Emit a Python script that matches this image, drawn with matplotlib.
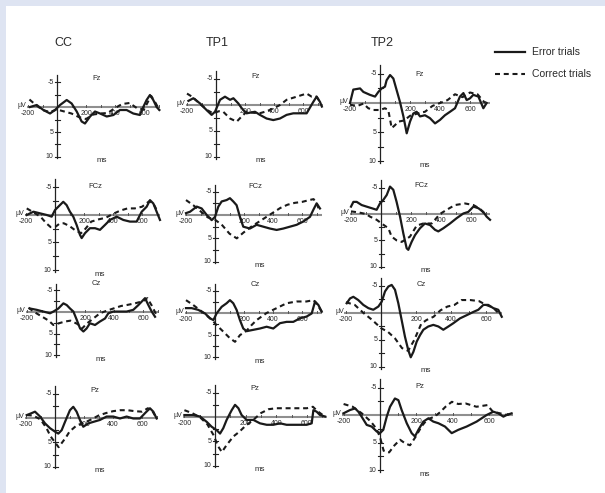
import matplotlib
matplotlib.use('Agg')
import matplotlib.pyplot as plt
from matplotlib.lines import Line2D

# ---------------- data (time ms, amplitude µV; negative plotted up) ----------------
columns = ["CC", "TP1", "TP2"]
electrodes = ["Fz", "FCz", "Cz", "Pz"]
series_labels = ["Error trials", "Correct trials"]
x_tick_labels = ["-200", "200", "400", "600"]
y_tick_labels = ["-5", "5", "10"]

cc_fz_error = [(-186,0.0),(-140,-0.4),(-94,0.6),(-48,1.3),(-14,0.6),(21,-0.4),(67,-1.4),(101,-0.7),(136,0.9),(170,2.9),(193,3.3),(228,1.9),(262,0.9),(297,1.3),(343,1.9),(389,1.6),(434,0.6),(480,0.6),(526,1.3),(572,1.6),(595,0.0),(618,-1.4),(641,-2.4),(664,-1.4),(687,0.0),(706,0.6)]
cc_fz_correct = [(-190,-1.5),(-150,-0.5),(-100,0.6),(-50,1.0),(0,0.5),(50,0.9),(100,1.3),(150,2.0),(200,2.4),(250,1.5),(300,1.3),(350,1.2),(400,0.2),(450,-0.6),(500,-0.8),(550,0.2),(600,0.5),(630,-1.2),(650,-2.2),(680,-0.8),(706,0.6)]
tp1_fz_error = [(-190,-0.8),(-156,-1.3),(-110,-0.3),(-64,1.0),(-30,1.9),(-7,1.3),(28,-1.0),(62,-1.6),(97,-1.0),(120,-1.3),(154,-0.3),(177,0.6),(211,1.6),(269,1.3),(303,1.9),(349,2.6),(395,2.9),(441,2.6),(487,1.9),(533,1.6),(625,1.6),(671,-0.6),(694,-1.6),(717,-0.6),(730,0.3)]
tp1_fz_correct = [(-200,-2.2),(-160,-1.5),(-110,-0.2),(-60,1.0),(-20,1.6),(20,1.2),(50,1.3),(97,2.6),(143,3.2),(177,2.2),(211,1.3),(260,1.5),(300,1.6),(350,1.2),(400,0.6),(441,0.0),(487,-1.0),(556,-1.6),(625,-2.2),(660,-1.6),(694,-1.6),(717,-0.6)]
tp2_fz_error = [(-200,0.0),(-178,-2.3),(-133,-2.5),(-111,-1.9),(-67,-1.4),(-33,-1.1),(-11,-1.9),(11,-2.5),(33,-2.8),(44,-3.9),(67,-4.8),(89,-4.2),(111,-2.2),(133,-0.2),(156,2.3),(178,5.2),(200,3.2),(222,1.8),(244,1.5),(267,2.3),(300,2.1),(333,2.6),(367,3.5),(400,2.9),(433,2.1),(467,1.5),(500,0.9),(533,-1.1),(556,-1.7),(578,-0.5),(600,-0.8),(622,-1.4),(656,-1.1),(689,0.9),(711,0.0)]
tp2_fz_correct = [(-200,0.3),(-150,0.5),(-111,0.1),(-78,0.9),(-44,1.2),(0,1.2),(33,0.9),(55,1.2),(78,4.3),(100,3.8),(122,3.2),(160,3.0),(200,2.2),(250,1.8),(300,1.5),(350,0.5),(400,0.0),(450,-0.5),(500,-1.5),(550,-1.0),(600,-1.8),(650,-1.5),(700,0.0)]

cc_fcz_error = [(-195,0.0),(-149,-0.6),(-103,-0.3),(-57,0.0),(-23,0.3),(0,-0.9),(34,-1.8),(57,-2.4),(80,-1.8),(103,-0.6),(126,0.3),(149,1.8),(172,3.6),(184,4.2),(207,3.3),(241,2.4),(276,2.4),(310,2.7),(345,1.8),(379,0.9),(425,0.3),(471,0.9),(517,1.2),(563,1.2),(598,-0.6),(632,-1.5),(655,-2.7),(678,-2.1),(701,-0.6),(724,0.9)]
cc_fcz_correct = [(-195,-1.2),(-150,-0.5),(-100,0.3),(-60,1.5),(-30,2.2),(0,2.2),(30,1.6),(60,1.5),(100,2.0),(140,2.8),(180,3.3),(210,2.5),(250,1.2),(300,0.8),(350,0.5),(400,-0.2),(450,-0.8),(500,-1.2),(550,-1.2),(600,-1.5),(650,-2.5),(680,-2.0),(710,-0.5)]
tp1_fcz_error = [(-200,-0.4),(-172,-0.7),(-126,-1.8),(-92,-1.4),(-57,0.0),(-23,1.1),(0,0.4),(23,-1.8),(46,-2.9),(80,-3.2),(103,-3.6),(126,-2.9),(149,-2.1),(172,0.4),(195,2.5),(241,2.9),(287,2.1),(333,2.5),(379,2.9),(425,3.2),(471,2.9),(517,2.5),(563,2.1),(609,1.4),(655,0.4),(678,-1.1),(701,-2.5),(724,-1.4)]
tp1_fcz_correct = [(-200,-3.2),(-150,-2.1),(-100,-0.8),(-50,0.5),(0,1.0),(50,2.2),(100,4.0),(150,5.0),(195,3.8),(250,2.5),(300,1.5),(350,0.5),(400,-0.5),(450,-1.5),(500,-2.2),(550,-2.6),(600,-2.8),(650,-3.2),(680,-3.4),(700,-2.5),(720,-1.0)]
tp2_fcz_error = [(-200,-1.4),(-184,-2.3),(-162,-2.3),(-129,-1.7),(-96,-1.4),(-62,-1.1),(-29,-0.8),(-7,-2.0),(16,-2.7),(38,-3.6),(60,-5.2),(82,-4.6),(104,-2.3),(127,0.5),(149,3.7),(171,6.5),(182,6.8),(204,5.3),(227,4.0),(260,2.7),(293,1.8),(327,2.1),(360,3.0),(382,3.3),(416,2.7),(460,1.8),(504,0.8),(549,-0.1),(582,-0.4),(616,-1.4),(649,-1.1),(682,-0.4),(704,0.5),(727,1.1)]
tp2_fcz_correct = [(-200,-0.5),(-150,-0.3),(-100,0.0),(-73,0.5),(-29,1.1),(4,1.8),(49,2.7),(71,4.3),(104,5.0),(138,5.3),(193,4.3),(238,2.2),(282,1.8),(338,1.8),(393,0.0),(438,-0.8),(493,-1.7),(560,-2.0),(616,-1.7),(660,-1.0),(700,0.3)]

cc_cz_error = [(-179,-0.8),(-133,-0.5),(-87,-0.1),(-41,0.3),(-18,-0.1),(16,-0.8),(51,-2.0),(74,-1.6),(97,-0.8),(120,-0.1),(143,1.8),(166,3.8),(189,4.5),(211,3.8),(234,2.6),(269,3.0),(303,2.2),(338,1.5),(361,0.3),(395,-0.1),(441,-0.1),(487,-0.1),(533,-0.5),(568,-1.6),(591,-2.4),(614,-3.2),(637,-1.6),(660,-0.1),(683,1.1)]
cc_cz_correct = [(-190,-1.0),(-150,0.0),(-100,1.0),(-50,2.0),(-18,3.0),(20,2.6),(62,2.2),(100,2.0),(150,2.8),(180,3.8),(215,2.6),(246,1.8),(303,0.3),(350,-0.3),(395,-0.8),(450,-1.4),(487,-1.6),(545,-2.0),(600,-2.5),(630,-3.2),(660,-1.5),(690,0.5)]
tp1_cz_error = [(-200,-1.1),(-161,-1.1),(-115,-0.7),(-69,0.1),(-34,1.2),(-11,1.6),(11,0.1),(46,-1.4),(80,-2.2),(103,-2.9),(126,-2.2),(149,-0.7),(172,1.6),(195,3.5),(218,4.1),(264,3.8),(310,3.5),(356,3.1),(402,3.5),(448,2.3),(494,2.0),(540,2.0),(586,1.2),(632,0.8),(667,0.1),(690,-2.6),(713,-1.8),(736,-0.3)]
tp1_cz_correct = [(-200,-2.9),(-150,-1.8),(-90,-0.3),(-20,1.6),(10,2.7),(57,4.2),(103,5.7),(138,6.5),(172,5.0),(218,4.0),(250,2.8),(287,1.6),(356,0.0),(425,-1.1),(494,-2.2),(563,-2.6),(630,-2.6),(680,-2.9),(713,-1.5),(736,-0.3)]
tp2_cz_error = [(-196,-1.8),(-177,-2.7),(-158,-3.0),(-130,-2.4),(-101,-1.5),(-72,-0.9),(-44,-0.6),(-15,-1.2),(4,-2.1),(23,-4.0),(42,-4.9),(61,-5.2),(80,-4.3),(99,-1.8),(118,1.3),(137,4.4),(156,6.9),(170,8.2),(185,7.2),(204,5.3),(223,4.1),(242,3.1),(270,2.5),(299,2.2),(328,2.5),(356,3.1),(385,2.5),(413,1.9),(451,1.0),(490,0.4),(528,-0.2),(556,-0.6),(585,-1.5),(613,-1.5),(642,-0.9),(670,-0.6),(690,0.7)]
tp2_cz_correct = [(-200,-2.0),(-150,-1.5),(-100,0.0),(-50,1.3),(0,2.8),(40,3.5),(80,4.7),(120,6.5),(155,7.0),(190,5.0),(230,2.0),(260,1.3),(300,0.7),(340,-0.5),(380,-1.2),(420,-1.5),(460,-2.4),(510,-2.4),(560,-2.2),(600,-1.5),(640,-1.0),(680,0.3)]

cc_pz_error = [(-195,-0.6),(-161,-1.0),(-138,-1.3),(-103,-0.3),(-69,1.1),(-34,2.1),(0,2.8),(23,3.2),(46,2.5),(69,0.8),(103,-1.6),(126,-2.3),(149,-1.3),(172,0.4),(195,1.8),(230,1.1),(264,0.8),(310,0.4),(356,-0.3),(402,-0.3),(448,0.1),(494,-0.3),(540,0.1),(586,0.1),(621,-1.0),(655,-2.0),(678,-1.3),(701,0.1)]
cc_pz_correct = [(-195,-0.6),(-150,-0.5),(-100,0.3),(-60,2.0),(-30,3.8),(0,5.0),(25,6.0),(50,5.0),(75,4.0),(100,2.8),(150,1.5),(200,1.0),(250,0.3),(300,-0.5),(350,-1.0),(400,-1.4),(450,-1.6),(500,-1.6),(550,-1.4),(600,-1.3),(640,-2.0),(670,-1.5),(700,0.0)]
tp1_pz_error = [(-200,-0.4),(-142,-0.4),(-98,-0.1),(-54,1.0),(-22,2.0),(11,2.7),(33,3.4),(54,2.3),(76,0.6),(109,-1.4),(131,-2.5),(153,-1.8),(174,-0.4),(207,0.6),(251,0.6),(294,1.3),(338,1.6),(381,1.6),(425,1.3),(468,1.6),(512,1.6),(556,1.6),(599,1.6),(632,1.3),(643,-1.4),(664,-1.1),(686,-0.4),(719,-0.1)]
tp1_pz_correct = [(-200,-1.4),(-150,-0.8),(-100,0.0),(-50,1.5),(-10,3.7),(20,6.0),(45,7.2),(75,5.8),(120,4.0),(160,3.0),(200,1.8),(250,0.6),(300,-0.8),(350,-1.6),(400,-1.8),(450,-1.8),(500,-1.8),(550,-1.8),(600,-1.8),(640,-2.1),(670,-1.2),(700,-0.5),(720,-0.2)]
tp2_pz_error = [(-201,-0.3),(-165,-0.9),(-137,-1.2),(-119,-0.6),(-101,0.3),(-73,1.8),(-46,2.1),(-18,3.0),(0,3.3),(18,2.7),(37,0.3),(55,-1.5),(82,-3.0),(101,-2.7),(119,-0.9),(147,1.5),(174,3.3),(192,3.9),(211,2.7),(238,1.2),(266,0.6),(293,1.2),(321,1.5),(357,2.1),(394,3.3),(430,2.7),(476,2.1),(531,1.2),(586,0.0),(623,-0.6),(650,-0.3),(678,0.3),(696,0.0),(723,-0.3)]
tp2_pz_correct = [(-200,-2.0),(-150,-1.5),(-100,-0.3),(-50,1.2),(-20,2.5),(0,4.0),(20,6.5),(50,6.8),(80,5.5),(110,4.5),(140,5.2),(165,5.5),(195,4.0),(230,2.0),(260,0.8),(300,0.3),(330,-0.5),(360,-1.5),(395,-2.4),(430,-2.0),(470,-2.1),(530,-1.5),(590,-1.8),(620,-0.6),(660,-0.3),(700,0.0),(720,-0.3)]

grid_error = [[cc_fz_error, tp1_fz_error, tp2_fz_error],
              [cc_fcz_error, tp1_fcz_error, tp2_fcz_error],
              [cc_cz_error, tp1_cz_error, tp2_cz_error],
              [cc_pz_error, tp1_pz_error, tp2_pz_error]]
grid_correct = [[cc_fz_correct, tp1_fz_correct, tp2_fz_correct],
                [cc_fcz_correct, tp1_fcz_correct, tp2_fcz_correct],
                [cc_cz_correct, tp1_cz_correct, tp2_cz_correct],
                [cc_pz_correct, tp1_pz_correct, tp2_pz_correct]]

# ---------------- layout (pixels) ----------------
W, H = 605, 493
# (y-axis x px, zero-line y px, px per ms, px per µV, x-axis end ms)
layout = [[(57, 107, 0.145, 5.0, 710), (216, 105, 0.145, 5.2, 738), (380, 103, 0.150, 5.83, 733)],
          [(55, 215, 0.145, 5.5, 724), (215, 215, 0.145, 4.67, 738), (381, 214, 0.150, 5.27, 727)],
          [(56, 312, 0.145, 4.33, 703), (215, 313, 0.145, 4.43, 738), (381, 313, 0.175, 5.4, 691)],
          [(55, 418, 0.145, 4.87, 710), (215, 417, 0.153, 4.87, 732), (380, 415, 0.182, 5.5, 730)]]

FONT = 'Liberation Sans'
plt.rcParams['font.family'] = [FONT, 'DejaVu Sans']

fig = plt.figure(figsize=(W/100, H/100), dpi=100)
fig.patch.set_facecolor('#dee4f2')
fig.add_artist(plt.Rectangle((6/W, 0), 1 - 6/W, 1 - 6/H, transform=fig.transFigure,
                             facecolor='white', edgecolor='none', zorder=0))

LINE_C = '#1a1a1a'
TXT_C = '#2a2a2a'

def panel(row, col):
    x0, y0, sx, sy, xend = layout[row][col]
    t0, t1, v0, v1 = -330, 830, -9.0, 13.0
    left = (x0 + t0 * sx) / W
    width = (t1 - t0) * sx / W
    top = y0 + v0 * sy
    hpx = (v1 - v0) * sy
    bottom = 1 - (top + hpx) / H
    ax = fig.add_axes([left, bottom, width, hpx / H])
    ax.set_xlim(t0, t1)
    ax.set_ylim(v1, v0)
    ax.axis('off')
    ax.patch.set_alpha(0)
    # axes
    ax.plot([-210, xend], [0, 0], color='#8f8f8f', lw=1.5, zorder=1, solid_capstyle='butt')
    ax.plot([0, 0], [-6.5, 10.3], color='#222222', lw=0.9, zorder=2)
    tk = 2.5 / sx
    for v in [-5, -2.5, 2.5, 5, 7.5, 10]:
        ax.plot([-tk, tk], [v, v], color='#222222', lw=0.8, zorder=2)
    for t in range(-200, int(xend), 100):
        if t != 0:
            ax.plot([t, t], [0, -2.2 / sy], color='#555555', lw=0.7, zorder=2)
    fs = 5.0
    for lab, v in zip(y_tick_labels, [-5, 5, 10]):
        ax.text(-3.5 / sx, v, lab, ha='right', va='center', fontsize=fs, color=TXT_C)
    for lab, t in zip(x_tick_labels, [-200, 200, 400, 600]):
        ax.text(t, 6.5 / sy, lab, ha='center', va='center', fontsize=fs, color=TXT_C)
    ax.text(-212, -0.3, 'µV', ha='right', va='center', fontsize=fs, color=TXT_C)
    ax.text(40 / sx, -28 / sy, electrodes[row], ha='center', va='center', fontsize=5.5, color=TXT_C)
    ax.text(45 / sx, 10 + 4 / sy, 'ms', ha='center', va='center', fontsize=5.8, color=TXT_C)
    err = grid_error[row][col]
    cor = grid_correct[row][col]
    ax.plot([p[0] for p in cor], [p[1] for p in cor], color=LINE_C, lw=1.5,
            dashes=(2.4, 1.8), zorder=3)
    ax.plot([p[0] for p in err], [p[1] for p in err], color=LINE_C, lw=1.6, zorder=4,
            solid_joinstyle='round')

for r in range(4):
    for c in range(3):
        panel(r, c)

# column titles
for name, xp in zip(columns, [63, 217, 382]):
    fig.text(xp / W, 1 - 43 / H, name, ha='center', va='center', fontsize=9, color=TXT_C)

# legend
fig.add_artist(Line2D([495 / W, 525 / W], [1 - 52 / H, 1 - 52 / H], color=LINE_C, lw=1.6))
fig.add_artist(Line2D([495 / W, 525 / W], [1 - 74 / H, 1 - 74 / H], color=LINE_C, lw=1.5,
                      dashes=(2.4, 1.8)))
fig.text(532 / W, 1 - 52 / H, series_labels[0], ha='left', va='center', fontsize=7.5, color=TXT_C)
fig.text(532 / W, 1 - 74 / H, series_labels[1], ha='left', va='center', fontsize=7.5, color=TXT_C)

fig.savefig('out.png', dpi=100, facecolor=fig.get_facecolor())
